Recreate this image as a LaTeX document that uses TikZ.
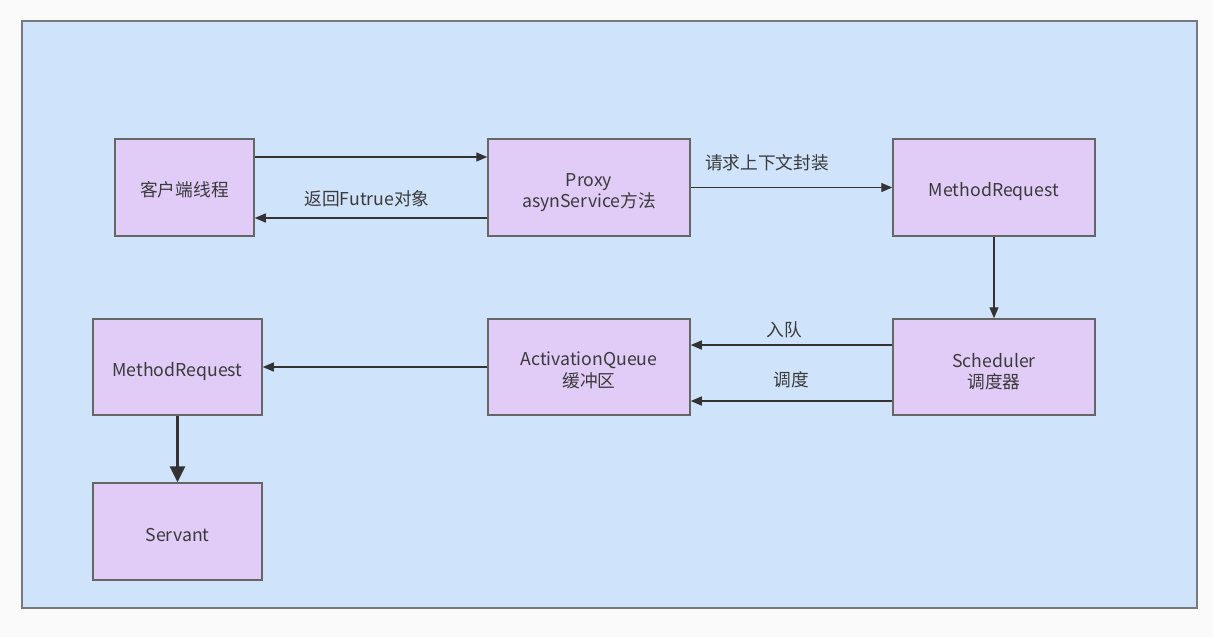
\documentclass[tikz,border=0pt]{standalone}
\usepackage{fontspec}
\setmainfont{Noto Sans CJK SC}
\usetikzlibrary{arrows.meta}
\definecolor{pagebg}{HTML}{FAFAFA}
\definecolor{panelbg}{HTML}{CFE3FB}
\definecolor{panelline}{HTML}{77797C}
\definecolor{boxfill}{HTML}{E1CCF8}
\definecolor{boxline}{HTML}{666666}
\definecolor{txt}{HTML}{3A3A3A}
\definecolor{arrcol}{HTML}{333333}
\tikzset{
  box/.style={draw=boxline, line width=1.5pt, fill=boxfill, inner sep=0pt},
  arr/.style={draw=arrcol, line width=1.3pt, -{Triangle[length=11pt,width=9pt]}},
  thickarr/.style={draw=arrcol, line width=3pt, -{Triangle[length=16pt,width=15pt]}},
  lbl/.style={text=txt, font=\fontsize{17.7}{21.5}\selectfont, inner sep=0pt, align=center}
}
\begin{document}
\begin{tikzpicture}[x=1pt,y=-1pt]
\useasboundingbox (0,0) rectangle (1213,637);
\fill[pagebg] (0,0) rectangle (1213,637);
\draw[panelline, line width=2pt, fill=panelbg] (22,21) rectangle (1197,608);

\node[box, minimum width=139pt, minimum height=97pt, label={[lbl,yshift=-2pt]center:客户端线程}] (client) at (184.5,187.5) {};
\node[box, minimum width=202pt, minimum height=97pt, label={[lbl,yshift=-5pt]center:{Proxy\\asynService方法}}] (proxy) at (589,187.5) {};
\node[box, minimum width=202pt, minimum height=97pt, label={[lbl,yshift=-4pt]center:MethodRequest}] (mr1) at (994,187.5) {};
\node[box, minimum width=169pt, minimum height=96pt, label={[lbl,yshift=-4.5pt]center:MethodRequest}] (mr2) at (177.5,367) {};
\node[box, minimum width=202pt, minimum height=96pt, label={[lbl,yshift=-3.5pt]center:{ActivationQueue\\缓冲区}}] (aq) at (589,367) {};
\node[box, minimum width=202pt, minimum height=96pt, label={[lbl,yshift=-4.5pt]center:{Scheduler\\调度器}}] (sch) at (994,367) {};
\node[box, minimum width=169pt, minimum height=97pt, label={[lbl,yshift=-4pt]center:Servant}] (serv) at (177.5,531.5) {};

\draw[arr] ([yshift=30.5pt]client.east) -- ([yshift=30.5pt]proxy.west);
\draw[arr] ([yshift=-30.5pt]proxy.west) -- ([yshift=-30.5pt]client.east);
\draw[arr] (proxy.east) -- (mr1.west);
\draw[arr] (mr1.south) -- (sch.north);
\draw[arr] ([yshift=22pt]sch.west) -- ([yshift=22pt]aq.east);
\draw[arr] ([yshift=-34pt]sch.west) -- ([yshift=-34pt]aq.east);
\draw[arr] (aq.west) -- (mr2.east);
\draw[thickarr] (mr2.south) -- (serv.north);

\node[lbl] (l1) at (367,199) {返回Futrue对象};
\node[lbl] (l2) at (767,163) {请求上下文封装};
\node[lbl] (l3) at (784,330) {入队};
\node[lbl] (l4) at (791,380) {调度};
\end{tikzpicture}
\end{document}
